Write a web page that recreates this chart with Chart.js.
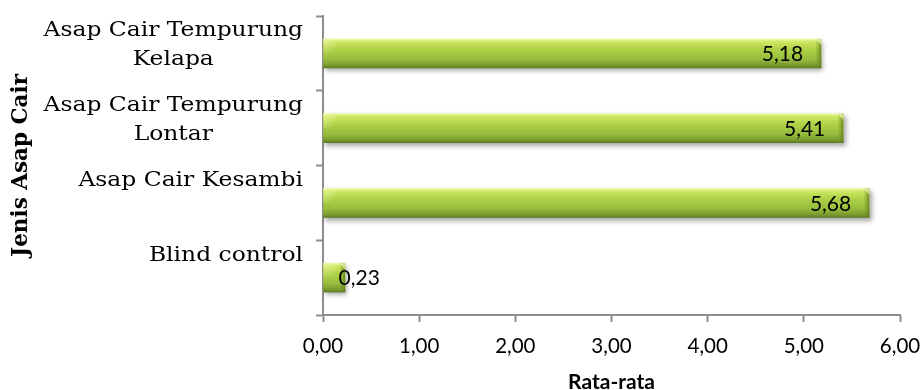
<!DOCTYPE html>
<html>
<head>
<meta charset="utf-8">
<script src="https://cdn.jsdelivr.net/npm/chart.js@4.4.1/dist/chart.umd.min.js"></script>
<style>
  html, body { margin: 0; padding: 0; background: #ffffff; }
  #wrap { width: 923px; height: 390px; position: relative; }
</style>
</head>
<body>
<div id="wrap"><canvas id="c" width="923" height="390"></canvas></div>
<script>
// Smoke-liquid types (top to bottom) and their mean scores
const categories = [
  ['Asap Cair Tempurung', 'Kelapa'],
  ['Asap Cair Tempurung', 'Lontar'],
  ['Asap Cair Kesambi'],
  ['Blind control']
];
const rataRata = [5.18, 5.41, 5.68, 0.23];
const xTicks = [0, 1, 2, 3, 4, 5, 6];
const yTitle = 'Jenis Asap Cair';
const xTitle = 'Rata-rata';

const fmt = v => v.toFixed(2).replace('.', ',');

const AXIS = '#8d8d8d';
const BAR_H = 29;
const SERIF = '"DejaVu Serif", "Liberation Serif", serif';
const SANS = 'Lato, "Open Sans", sans-serif';

// Vertical bevel gradient for a bar centred on pixel row cy
function barGradient(chart, cy) {
  const g = chart.ctx.createLinearGradient(0, cy - BAR_H / 2, 0, cy + BAR_H / 2);
  g.addColorStop(0.00, '#eef9b0');
  g.addColorStop(0.10, '#cfe862');
  g.addColorStop(0.35, '#afd247');
  g.addColorStop(0.70, '#97bd3d');
  g.addColorStop(0.90, '#7c9c30');
  g.addColorStop(1.00, '#5f7d24');
  return g;
}

// Soft drop shadow under the bars
const shadowPlugin = {
  id: 'barShadow',
  beforeDatasetsDraw(chart) {
    const ctx = chart.ctx;
    ctx.save();
    ctx.shadowColor = 'rgba(0,0,0,0.35)';
    ctx.shadowBlur = 5;
    ctx.shadowOffsetX = 2;
    ctx.shadowOffsetY = 3;
  },
  afterDatasetsDraw(chart) {
    chart.ctx.restore();
  }
};

// End caps, value labels and category labels
const decorPlugin = {
  id: 'decor',
  afterDatasetsDraw(chart) {
    const ctx = chart.ctx;
    const meta = chart.getDatasetMeta(0);
    ctx.save();
    meta.data.forEach((el) => {
      const top = el.y - BAR_H / 2;
      const end = el.x;
      const capW = Math.min(6, (end - el.base) / 3);
      // bevelled right end
      const cg = ctx.createLinearGradient(end - capW, 0, end, 0);
      cg.addColorStop(0, 'rgba(120,150,40,0.0)');
      cg.addColorStop(1, 'rgba(95,125,30,0.85)');
      ctx.fillStyle = cg;
      ctx.fillRect(end - capW, top, capW, BAR_H);
      ctx.fillStyle = 'rgba(240,250,180,0.7)';
      ctx.beginPath();
      ctx.moveTo(end - capW, top);
      ctx.lineTo(end, top);
      ctx.lineTo(end, top + capW);
      ctx.closePath();
      ctx.fill();
      // soft light corner at the start of the bar
      const lg = ctx.createLinearGradient(el.base, top, el.base + 12, top + 12);
      lg.addColorStop(0, 'rgba(235,248,170,0.55)');
      lg.addColorStop(1, 'rgba(235,248,170,0)');
      ctx.fillStyle = lg;
      ctx.fillRect(el.base, top, 12, 14);
    });

    // value labels at the inner end of each bar
    ctx.font = '21px ' + SANS;
    ctx.fillStyle = '#000000';
    ctx.textBaseline = 'middle';
    ctx.textAlign = 'left';
    meta.data.forEach((el, i) => {
      const t = fmt(rataRata[i]);
      const w = ctx.measureText(t).width;
      const x = Math.max(el.x - 18 - w, el.base + 15);
      ctx.fillText(t, x, el.y + 1);
    });
    ctx.restore();
  },
  afterDraw(chart) {
    const ctx = chart.ctx;
    const y = chart.scales.y;
    const right = y.right - 20;
    const stretch = 1.2;
    ctx.save();
    ctx.font = '19.5px ' + SERIF;
    ctx.fillStyle = '#000000';
    ctx.textBaseline = 'alphabetic';
    ctx.textAlign = 'center';
    categories.forEach((lines, i) => {
      const cy = y.getPixelForValue(i);
      const blockW = Math.max(...lines.map(l => ctx.measureText(l).width)) * stretch;
      const cx = right - blockW / 2;
      lines.forEach((l, k) => {
        ctx.save();
        ctx.translate(cx, cy - 17 + k * 28.5);
        ctx.scale(stretch, 1);
        ctx.fillText(l, 0, 0);
        ctx.restore();
      });
    });
    ctx.restore();
  }
};

new Chart(document.getElementById('c'), {
  type: 'bar',
  data: {
    labels: categories,
    datasets: [{
      data: rataRata,
      barThickness: BAR_H,
      borderWidth: 0,
      backgroundColor: (c) => {
        const ys = c.chart.scales && c.chart.scales.y;
        if (!ys || c.dataIndex === undefined) return '#a3c842';
        const cy = ys.getPixelForValue(c.dataIndex);
        if (!isFinite(cy)) return '#a3c842';
        return barGradient(c.chart, cy);
      }
    }]
  },
  options: {
    indexAxis: 'y',
    responsive: false,
    animation: false,
    events: [],
    layout: { padding: { top: 16, right: 23, bottom: 0, left: 0 } },
    plugins: {
      legend: { display: false },
      tooltip: { enabled: false },
      title: { display: false }
    },
    scales: {
      x: {
        type: 'linear',
        min: xTicks[0],
        max: xTicks[xTicks.length - 1],
        afterBuildTicks: (s) => { s.ticks = xTicks.map(v => ({ value: v })); },
        grid: {
          drawOnChartArea: false,
          drawTicks: true,
          tickLength: 7,
          tickWidth: 2,
          tickColor: AXIS,
          color: AXIS
        },
        border: { display: true, color: AXIS, width: 2 },
        ticks: {
          padding: 12,
          color: '#000000',
          font: { family: SANS, size: 20.5 },
          maxRotation: 0,
          callback: (v) => fmt(v)
        },
        title: {
          display: true,
          text: xTitle,
          color: '#000000',
          font: { family: SANS, size: 21, weight: 'bold', lineHeight: 1 },
          padding: { top: 0, bottom: -3 }
        },
        afterFit: (s) => {
          s.height = 75;
          s.paddingLeft = 0;
          s.paddingRight = 0;
        }
      },
      y: {
        type: 'category',
        offset: true,
        grid: {
          offset: true,
          drawOnChartArea: false,
          drawTicks: true,
          tickLength: 7,
          tickWidth: 2,
          tickColor: AXIS,
          color: AXIS
        },
        border: { display: true, color: AXIS, width: 2 },
        ticks: { display: false },
        title: {
          display: true,
          text: yTitle,
          color: '#000000',
          font: { family: SERIF, size: 21.5, weight: 'bold', lineHeight: 1.2 },
          padding: { top: 9, bottom: 0 }
        },
        afterFit: (s) => {
          s.width = 323;
          s.paddingTop = 0;
          s.paddingBottom = 0;
        }
      }
    }
  },
  plugins: [shadowPlugin, decorPlugin]
});
</script>
</body>
</html>
